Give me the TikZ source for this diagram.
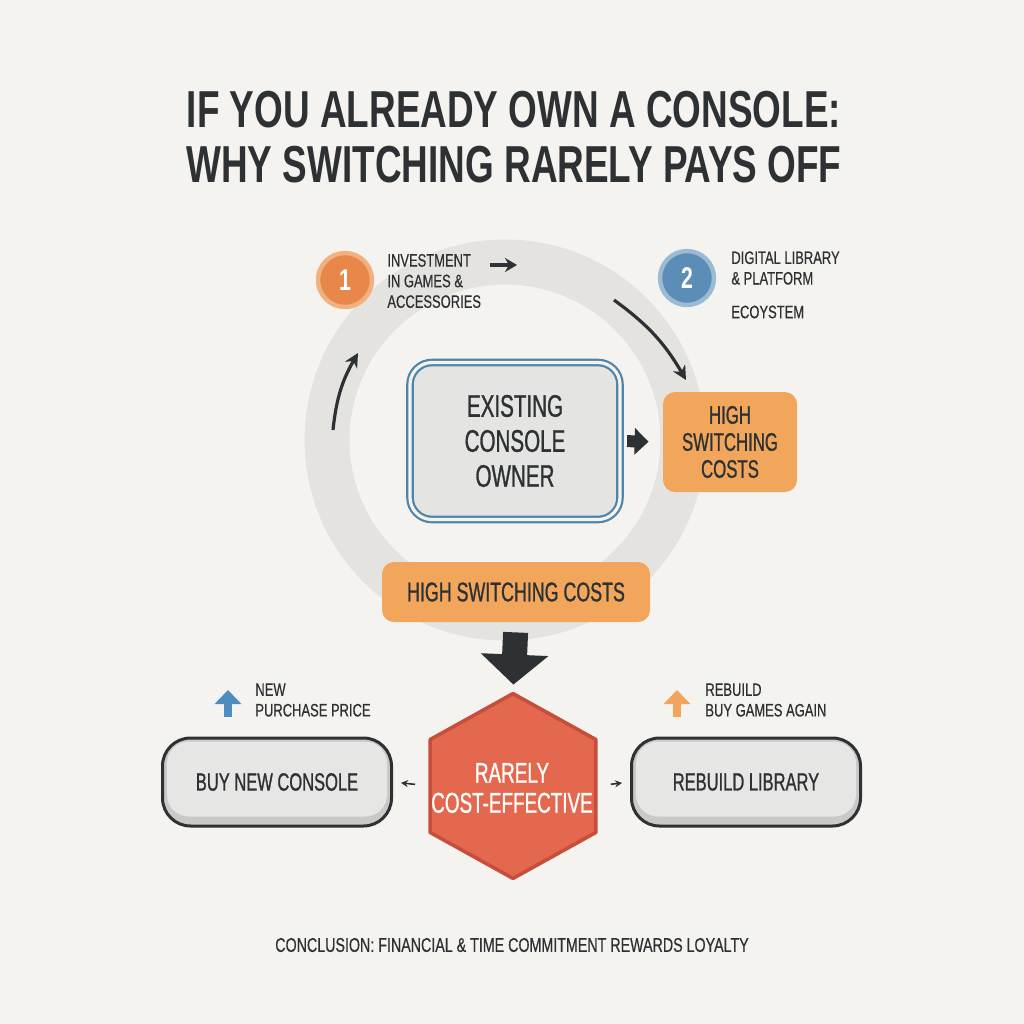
\documentclass[tikz,border=0pt]{standalone}
\usepackage{fontspec}
\setmainfont{Liberation Sans}[FakeStretch=0.72]
\newfontfamily\ttl{Liberation Sans Bold}[FakeStretch=0.71]
\newfontfamily\cnd{Liberation Sans}[FakeStretch=0.66, FakeBold=0.9]
\newfontfamily\sml{Liberation Sans}[FakeStretch=0.72, FakeBold=0.5]
\usetikzlibrary{arrows.meta}
\definecolor{bg}{HTML}{F4F3EF}
\definecolor{ring}{HTML}{E4E3E0}
\definecolor{ink}{HTML}{2E3133}
\definecolor{orangeA}{HTML}{E8874A}
\definecolor{orangeAl}{HTML}{F2B07E}
\definecolor{blueA}{HTML}{5C8DB6}
\definecolor{blueAl}{HTML}{9BBBD4}
\definecolor{ownerblue}{HTML}{4F84A8}
\definecolor{ownerfill}{HTML}{E4E4E2}
\definecolor{boxorange}{HTML}{F1A65C}
\definecolor{hexred}{HTML}{E3684E}
\definecolor{hexdark}{HTML}{C84E3C}
\definecolor{grayout}{HTML}{C9C9C7}
\definecolor{grayin}{HTML}{E6E6E4}
\definecolor{upblue}{HTML}{4E8DC0}
\definecolor{uporange}{HTML}{F2A35C}
\tikzset{
  side/.style={text=ink, align=left, anchor=west, inner sep=0pt, font=\sml\fontsize{9}{10.3}\selectfont},
  numcirc/.style={circle, minimum size=27pt, inner sep=0pt, line width=2.2pt, text=white, font=\ttl\fontsize{15}{15}\selectfont},
  orbox/.style={fill=boxorange, rounded corners=6pt, text=ink, align=center, inner sep=0pt},
  pill/.style={draw=ink, line width=1.5pt, fill=grayout, rounded corners=14pt, minimum width=114.5pt, minimum height=44pt, inner sep=0pt},
  pilltext/.style={text=ink, font=\cnd\fontsize{12.5}{14}\selectfont},
  thinarrow/.style={ink, line width=1.6pt, -{Stealth[length=7pt,width=7pt]}},
  smallarrow/.style={ink, line width=0.8pt, -{Stealth[length=3.5pt,width=3.5pt]}},
}
\begin{document}
\begin{tikzpicture}[x=0.5pt,y=-0.5pt]
\useasboundingbox[fill=bg] (0,0) rectangle (1024,1024);

% title
\node[text=ink, font=\ttl\fontsize{26}{27.5}\selectfont, align=center] (title) at (514,137)
  {IF YOU ALREADY OWN A CONSOLE:\\WHY SWITCHING RARELY PAYS OFF};

% ring
\draw[ring, line width=22.5pt] (505,440) circle[radius=178];

% numbered circles
\node[numcirc, fill=orangeA, draw=orangeAl] (n1) at (345,280) {1};
\node[numcirc, fill=blueA, draw=blueAl] (n2) at (687,278) {2};
\node[side] (t1) at (387,281) {INVESTMENT\\IN GAMES \&\\ACCESSORIES};
\node[side] (t2) at (731,268) {DIGITAL LIBRARY\\\& PLATFORM};
\node[side] (t3) at (731,312) {ECOYSTEM};

\coordinate (a1s) at (490,265); \coordinate (a1e) at (517,265);
\draw[ink, line width=1.6pt, -{Stealth[length=6pt,width=7pt]}] (a1s) -- (a1e);
\coordinate (a2s) at (614,300); \coordinate (a2e) at (686,380);
\draw[thinarrow] (a2s) to[bend left=12] (a2e);
\coordinate (a3s) at (333,430); \coordinate (a3e) at (358,353);
\draw[thinarrow] (a3s) to[bend left=12] (a3e);

% existing console owner
\node[draw=ownerblue, line width=1.1pt, double=bg, double distance=1.6pt, fill=ownerfill,
  rounded corners=11pt, minimum width=105pt, minimum height=78.5pt, inner sep=0pt,
  text=ink, align=center, font=\cnd\fontsize{15.6}{17.5}\selectfont] (owner) at (515,441)
  {EXISTING\\CONSOLE\\OWNER};

% high switching costs (right)
\node[orbox, minimum width=67pt, minimum height=50pt, font=\cnd\fontsize{12.7}{13.5}\selectfont] (hsc1) at (730,442)
  {HIGH\\SWITCHING\\COSTS};
\draw[ink, line width=6pt, -{Triangle[length=7pt,width=13pt]}, shorten <=3pt, shorten >=7pt] (owner.east) -- (hsc1.west);

% high switching costs (bottom)
\node[orbox, minimum width=134pt, minimum height=30pt, font=\cnd\fontsize{13.5}{14}\selectfont] (hsc2) at (516,592)
  {HIGH SWITCHING COSTS};

% hexagon
\node[minimum width=82.5pt, minimum height=92pt, inner sep=0pt] (hex) at (513,786) {};
\draw[hexdark, line width=1.8pt, fill=hexred, line join=round]
  (hex.north) -- ([yshift=-23pt]hex.north west) -- ([yshift=23pt]hex.south west) -- (hex.south)
  -- ([yshift=23pt]hex.south east) -- ([yshift=-23pt]hex.north east) -- cycle;
\node[text=white, align=center, font=\cnd\fontsize{14.3}{15}\selectfont] (hext) at (512,788) {RARELY\\COST-EFFECTIVE};

\draw[ink, line width=12.5pt, -{Triangle[length=15pt,width=33pt]}, shorten <=5pt, shorten >=4.5pt] (hsc2.south) -- (hex.north);

% pills
\node[pill] (buy) at (277,782) {};
\fill[grayin, rounded corners=11pt] ([shift={(6,5)}]buy.north west) rectangle ([shift={(-6,-11)}]buy.south east);
\node[pilltext] (buyt) at (277,782) {BUY NEW CONSOLE};
\node[pill] (reb) at (746,782) {};
\fill[grayin, rounded corners=11pt] ([shift={(6,5)}]reb.north west) rectangle ([shift={(-6,-11)}]reb.south east);
\node[pilltext] (rebt) at (746,782) {REBUILD LIBRARY};

\draw[smallarrow, shorten <=7.5pt, shorten >=4pt] (hex.west) -- (buy.east);
\draw[smallarrow, shorten <=7.5pt, shorten >=4pt] (hex.east) -- (reb.west);

% up arrows and notes
\coordinate (ub1) at (228,717); \coordinate (ut1) at (228,690);
\draw[upblue, line width=4pt, -{Triangle[length=7pt,width=13pt]}] (ub1) -- (ut1);
\node[side] (np) at (255,700) {NEW\\PURCHASE PRICE};
\coordinate (ub2) at (677,717); \coordinate (ut2) at (677,690);
\draw[uporange, line width=4pt, -{Triangle[length=7pt,width=13pt]}] (ub2) -- (ut2);
\node[side] (rb) at (705,700) {REBUILD\\BUY GAMES AGAIN};

% conclusion
\node[text=ink, font=\sml\fontsize{9.9}{10}\selectfont] (concl) at (512,945)
  {CONCLUSION: FINANCIAL \& TIME COMMITMENT REWARDS LOYALTY};
\end{tikzpicture}
\end{document}
